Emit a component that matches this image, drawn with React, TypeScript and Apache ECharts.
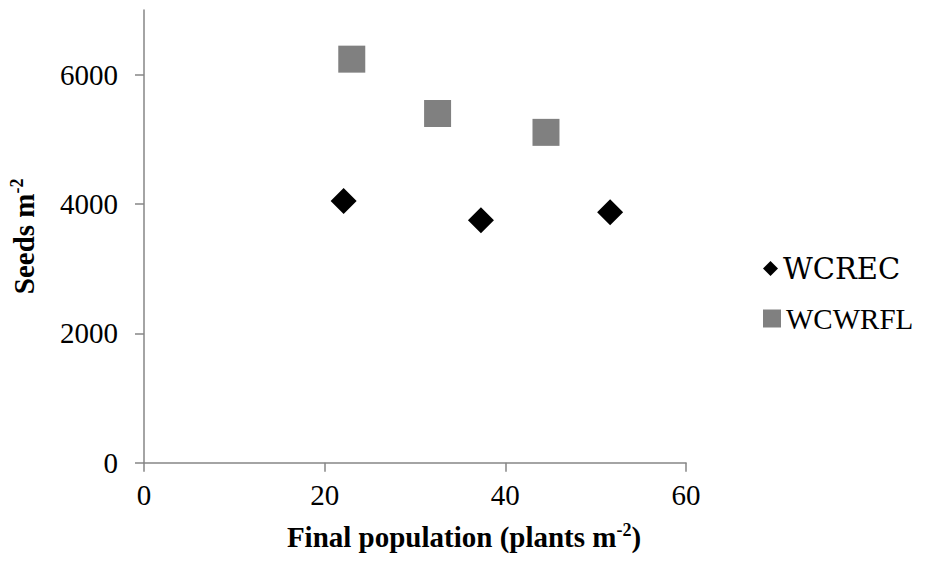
import React, { useEffect, useRef } from "react";
import * as echarts from "echarts";

const wcrecX = [22.1, 37.3, 51.6];
const wcrecY = [4045, 3750, 3874];
const wcwrflX = [23.0, 32.5, 44.5];
const wcwrflY = [6240, 5400, 5108];
const yTicks = [0, 2000, 4000, 6000];
const xTicks = [0, 20, 40, 60];

const FONT = "Liberation Serif";
const AXIS_COLOR = "#868686";

export default function App() {
  const ref = useRef<HTMLDivElement>(null);
  useEffect(() => {
    if (!ref.current) return;
    const chart = echarts.init(ref.current, undefined, { renderer: "svg" });
    const zip = (xs: number[], ys: number[]) => xs.map((x, i) => [x, ys[i]]);
    chart.setOption({
      animation: false,
      backgroundColor: "#ffffff",
      grid: { left: 143.5, right: 244, top: 10, bottom: 104.3 },
      legend: [
        {
          data: [{ name: "WCREC", icon: "diamond" }],
          left: 758,
          top: 249,
          itemWidth: 15,
          itemHeight: 15,
          itemGap: 8,
          textStyle: { fontFamily: "DejaVu Serif", fontSize: 29, color: "#000" },
        },
        {
          data: [{ name: "WCWRFL", icon: "rect" }],
          left: 758,
          top: 299,
          itemWidth: 18,
          itemHeight: 18,
          itemGap: 5,
          textStyle: { fontFamily: "serif", fontSize: 29, color: "#000" },
        },
      ],
      xAxis: {
        type: "value",
        min: 0,
        max: 60,
        interval: 20,
        name: "{a|Final population (plants m}{s|-2}{a|)}",
        nameLocation: "middle",
        nameGap: 58,
        nameTextStyle: {
          fontFamily: FONT,
          padding: [0, 0, 0, 98],
          rich: {
            a: { fontFamily: FONT, fontSize: 29, fontWeight: "bold", color: "#000" },
            s: { fontFamily: FONT, fontSize: 18, fontWeight: "bold", color: "#000", padding: [0, 0, 14, 0] },
          },
        },
        splitLine: { show: false },
        axisLine: { onZero: false, lineStyle: { color: AXIS_COLOR, width: 1.5 } },
        axisTick: { show: true, length: 9, lineStyle: { color: AXIS_COLOR, width: 1.5 }, customValues: xTicks },
        axisLabel: { fontFamily: "Times New Roman", fontSize: 29, color: "#000", margin: 18, customValues: xTicks, formatter: (v: number) => String(v) },
      },
      yAxis: {
        type: "value",
        min: 0,
        max: 7000,
        name: "{a|Seeds m}{s|-2}",
        nameLocation: "middle",
        nameGap: 104,
        nameTextStyle: {
          fontFamily: FONT,
          rich: {
            a: { fontFamily: FONT, fontSize: 29, fontWeight: "bold", color: "#000" },
            s: { fontFamily: FONT, fontSize: 18, fontWeight: "bold", color: "#000", padding: [0, 0, 14, 0] },
          },
        },
        splitLine: { show: false },
        axisLine: { show: true, onZero: false, lineStyle: { color: AXIS_COLOR, width: 1.5 } },
        axisTick: { show: true, length: 9, lineStyle: { color: AXIS_COLOR, width: 1.5 }, customValues: yTicks },
        axisLabel: { fontFamily: "Liberation Serif", fontSize: 29, color: "#000", margin: 26, customValues: yTicks, formatter: (v: number) => String(v) },
      },
      series: [
        {
          name: "WCREC",
          type: "scatter",
          symbol: "diamond",
          symbolSize: 26,
          itemStyle: { color: "#000000", opacity: 1 },
          data: zip(wcrecX, wcrecY),
        },
        {
          name: "WCWRFL",
          type: "scatter",
          symbol: "rect",
          symbolSize: 27,
          itemStyle: { color: "#808080", opacity: 1 },
          data: zip(wcwrflX, wcwrflY),
        },
      ],
    });
    return () => chart.dispose();
  }, []);
  return (
    <div
      ref={ref}
      style={{ position: "fixed", left: 0, top: 0, width: 930, height: 567, background: "#fff" }}
    />
  );
}
